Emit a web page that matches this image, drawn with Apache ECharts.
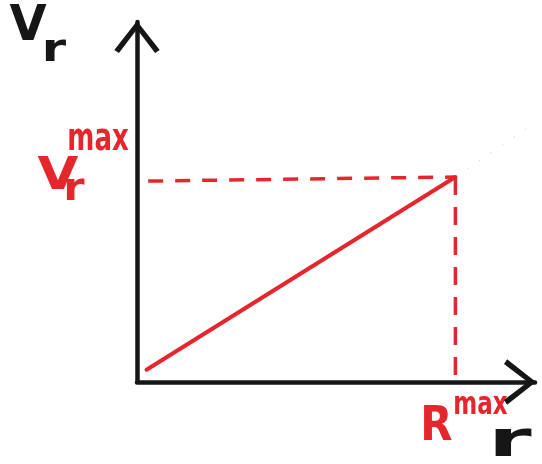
<!DOCTYPE html>
<html>
<head>
<meta charset="utf-8">
<script src="https://cdn.jsdelivr.net/npm/echarts@6/dist/echarts.min.js"></script>
<style>
  html, body { margin: 0; padding: 0; background: #ffffff; }
  #chart { width: 542px; height: 464px; }
</style>
</head>
<body>
<div id="chart"></div>
<script>
// Radial velocity rises linearly with r up to its maximum at R^max
const rMax = 1;
const vMax = 1;
const rAxisMax = 1.25;
const vAxisMax = 1.756;
const profile = [[0.03, 0.06], [rMax, vMax]];
const guideToV = [[0.035, 0.98], [rMax, vMax]];
const guideToR = [[rMax, vMax], [rMax, 0]];
const pencilTrail = [[rMax, vMax], [1.236, 1.25]];

const RED = '#e5262c';
const INK = '#161616';
const FONT = 'DejaVu Sans';
// open arrow head drawn as a thick chevron
const chevron = 'path://M0,28 L22,0 L44,28 L39.5,31 L22,8 L4.5,31 Z';

const chart = echarts.init(document.getElementById('chart'), null, { renderer: 'canvas' });

function axisBase(max) {
  return {
    type: 'value',
    min: 0,
    max: max,
    axisLine: {
      show: true,
      onZero: false,
      lineStyle: { color: INK, width: 4.5, cap: 'round' },
      symbol: ['none', chevron],
      symbolSize: [47, 32],
      symbolOffset: [0, -15]
    },
    axisTick: { show: false },
    axisLabel: { show: false },
    splitLine: { show: false }
  };
}

chart.setOption({
  animation: false,
  backgroundColor: '#ffffff',
  grid: { left: 137, right: 7, top: 22, bottom: 82 },
  xAxis: axisBase(rAxisMax),
  yAxis: axisBase(vAxisMax),
  series: [
    {
      type: 'line', data: pencilTrail, symbol: 'none', z: 1,
      lineStyle: { color: '#c8c8c8', width: 1, type: [2, 12], opacity: 0.7 }
    },
    {
      type: 'line', data: guideToV, symbol: 'none', z: 2,
      lineStyle: { color: RED, width: 3.5, type: [15, 12] }
    },
    {
      type: 'line', data: guideToR, symbol: 'none', z: 2,
      lineStyle: { color: RED, width: 3.5, type: [18, 12] }
    },
    {
      type: 'line', data: profile, symbol: 'none', z: 3,
      lineStyle: { color: RED, width: 4, cap: 'round' }
    }
  ]
});

const pV = chart.convertToPixel({ gridIndex: 0 }, [0, vMax]);
const pR = chart.convertToPixel({ gridIndex: 0 }, [rMax, 0]);

function txt(text, x, y, size, color, sx, sy) {
  return {
    type: 'text', x: x, y: y, scaleX: sx || 1, scaleY: sy || 1,
    style: {
      text: text, x: 0, y: 0, align: 'center', verticalAlign: 'middle',
      font: 'bold ' + size + 'px "' + FONT + '"', fill: color
    }
  };
}

chart.setOption({
  graphic: [
    // axis names
    txt('V', 28, 27, 48, INK, 1, 1.05),
    txt('r', 54, 51, 38, INK, 1.3, 1.05),
    txt('r', 510, 443, 40, INK, 2.2, 1.25),
    // V_r^max at the height of vMax
    txt('V', 58, pV[1] + 1, 44, RED, 1.2, 1),
    txt('max', 98, pV[1] - 36, 26, RED, 1, 1.4),
    txt('r', 74, pV[1] + 13, 36, RED, 1.2, 1.1),
    // R^max under rMax
    txt('R', pR[0] - 19, 427, 44, RED, 0.95, 1.1),
    txt('max', pR[0] + 25, 406, 23, RED, 1, 1.4)
  ]
});
</script>
</body>
</html>
